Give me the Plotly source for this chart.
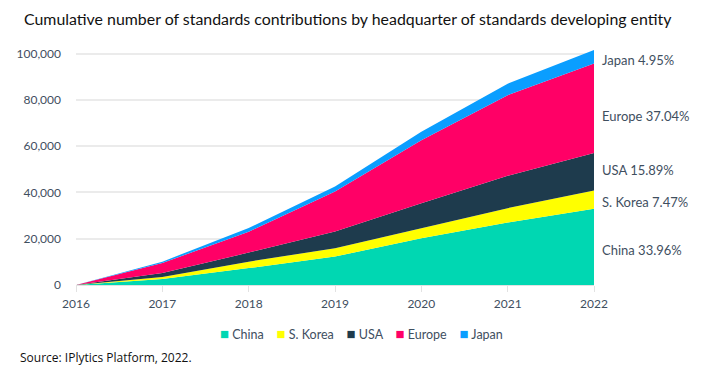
import plotly.graph_objects as go

years = [2016, 2017, 2018, 2019, 2020, 2021, 2022]
china = [0, 2600, 7300, 12300, 20200, 27000, 32900]
skorea = [0, 900, 2800, 3600, 4300, 6200, 7900]
usa = [0, 1700, 3900, 7200, 10800, 14000, 16200]
europe = [0, 4300, 9000, 17300, 27200, 34800, 38700]
japan = [0, 600, 1600, 2200, 3700, 5000, 5800]

series_names = ["China", "S. Korea", "USA", "Europe", "Japan"]
series_values = [china, skorea, usa, europe, japan]
series_colors = ["#00D7B2", "#FFFF00", "#1E3B4D", "#FF0066", "#0A9EFF"]
end_labels = ["China 33.96%", "S. Korea 7.47%", "USA 15.89%", "Europe 37.04%", "Japan 4.95%"]
label_y = [15200, 36000, 49800, 73200, 97400]
ytick_vals = [0, 20000, 40000, 60000, 80000, 100000]

fig = go.Figure()
for name, vals, col in zip(series_names, series_values, series_colors):
    fig.add_trace(go.Scatter(
        x=years, y=vals, name=name, stackgroup="one", mode="lines",
        line=dict(width=0, color=col), fillcolor=col, showlegend=False,
    ))

for txt, yv in zip(end_labels, label_y):
    fig.add_annotation(x=2022, y=yv, xref="x", yref="y", text=txt, showarrow=False,
                       xanchor="left", xshift=6, font=dict(family="Lato", size=13, color="#3F4F5F"))

# legend as text row
legend_html = "&nbsp;&nbsp;&nbsp;&nbsp;".join(
    f'<span style="color:{c};font-size:15px">■</span> {n}' for n, c in zip(series_names, series_colors)
)
fig.add_annotation(x=0.5, y=0, xref="paper", yref="paper", text=legend_html, showarrow=False,
                   xanchor="center", yanchor="middle", xshift=26, yshift=-48,
                   font=dict(family="Lato", size=12.5, color="#3F4F5F"))

fig.add_annotation(x=0, y=1, xref="paper", yref="paper",
                   text="Cumulative number of standards contributions by headquarter of standards developing entity",
                   showarrow=False, xanchor="left", yanchor="middle", xshift=-54, yshift=24,
                   font=dict(family="Lato", size=15.9, color="#111111"))
fig.add_annotation(x=0, y=0, xref="paper", yref="paper", text="Source: IPlytics Platform, 2022.",
                   showarrow=False, xanchor="left", yanchor="middle", xshift=-58, yshift=-72,
                   font=dict(family="Open Sans", size=12, color="#111111"))

fig.update_layout(
    width=697, height=366,
    margin=dict(l=68, r=111, t=34, b=89, autoexpand=False),
    paper_bgcolor="white", plot_bgcolor="white",
    showlegend=False,
    xaxis=dict(range=[2016, 2022], tickvals=years, ticktext=[str(y) for y in years],
               showgrid=False, showline=True, linecolor="#E2E2E2", ticks="outside",
               tickcolor="#E2E2E2", ticklen=6, zeroline=False, automargin=False,
               ticklabelstandoff=2,
               tickfont=dict(family="Lato", size=12, color="#3F4F5F")),
    yaxis=dict(range=[0, 105000], tickvals=ytick_vals, tickformat=",d",
               showgrid=True, gridcolor="#EBEBEB", gridwidth=1.5, zeroline=False,
               ticks="", ticklabelstandoff=14, automargin=False,
               tickfont=dict(family="Lato", size=12, color="#3F4F5F")),
)

fig.write_html("out.html")
